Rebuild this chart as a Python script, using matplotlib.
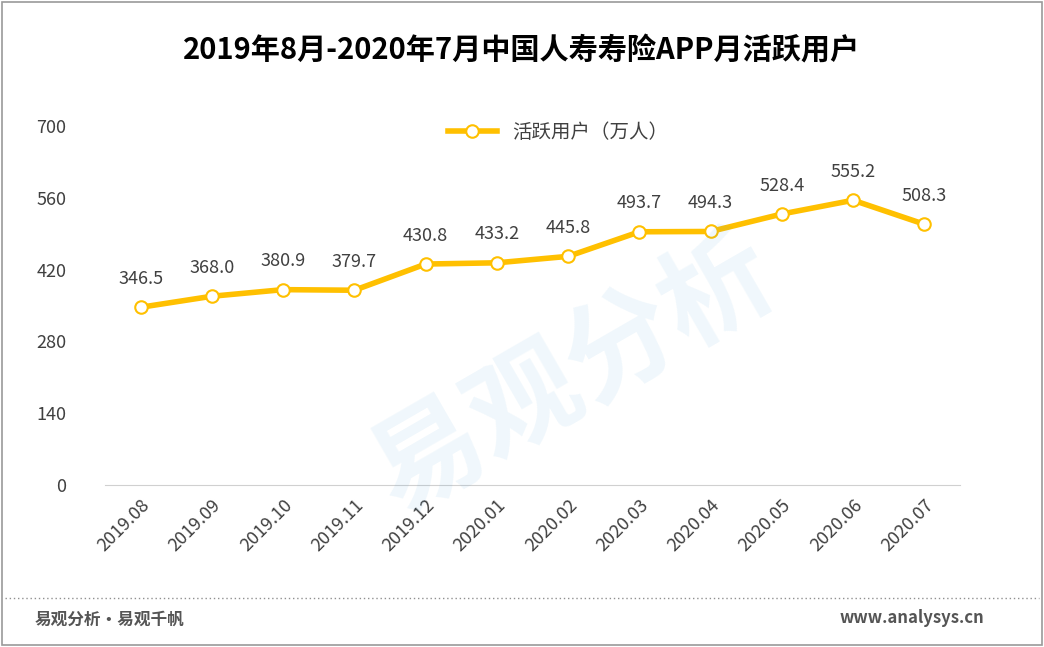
import matplotlib.pyplot as plt
from matplotlib.patches import Rectangle
from matplotlib.lines import Line2D

plt.rcParams['font.family'] = ['Noto Sans CJK SC', 'DejaVu Sans']

months = ['2019.08', '2019.09', '2019.10', '2019.11', '2019.12', '2020.01',
          '2020.02', '2020.03', '2020.04', '2020.05', '2020.06', '2020.07']
users = [346.5, 368.0, 380.9, 379.7, 430.8, 433.2, 445.8, 493.7, 494.3, 528.4, 555.2, 508.3]
yticks = [0, 140, 280, 420, 560, 700]

fig = plt.figure(figsize=(10.44, 6.47), dpi=100)
fig.patches.append(Rectangle((0.002, 0.003), 0.996, 0.994, transform=fig.transFigure,
                             fill=False, edgecolor='#9a9a9a', lw=1.2))

ax = fig.add_axes([0.1006, 0.2504, 0.819, 0.5549])
x = list(range(len(months)))
ax.plot(x, users, color='#FFC000', lw=4, marker='o', ms=9,
        markerfacecolor='white', markeredgecolor='#FFC000', markeredgewidth=1.5,
        label='活跃用户（万人）', zorder=3)
for xi, v in zip(x, users):
    ax.annotate(f'{v:.1f}', (xi, v), xytext=(0, 14), textcoords='offset points',
                ha='center', va='bottom', fontsize=13, color='#404040')

ax.set_xlim(-0.5, 11.5)
ax.set_ylim(0, 700)
ax.set_yticks(yticks)
ax.set_xticks(x)
ax.set_xticklabels(months, rotation=45, ha='right', rotation_mode='anchor')
ax.tick_params(axis='both', length=0, labelsize=13, labelcolor='#404040')
ax.tick_params(axis='y', pad=28)
ax.tick_params(axis='x', pad=8)
for s in ['top', 'right', 'left']:
    ax.spines[s].set_visible(False)
ax.spines['bottom'].set_color('#d0d0d0')

ax.legend(loc='upper center', bbox_to_anchor=(0.53, 1.06), frameon=False,
          fontsize=14, labelcolor='#404040', handlelength=2.5)

# watermark
fig.text(0.55, 0.42, '易观分析', fontsize=80, color='#3a9ad9', alpha=0.08,
         rotation=30, ha='center', va='center', fontweight='bold')

fig.text(0.5, 0.922, '2019年8月-2020年7月中国人寿寿险APP月活跃用户',
         ha='center', va='center', fontsize=21, fontweight='bold', color='black')

fig.add_artist(Line2D([0.005, 0.995], [1 - 598 / 647] * 2, transform=fig.transFigure,
                      color='#909090', lw=1, linestyle=(0, (1, 2))))
fig.text(0.033, 1 - 620 / 647, '易观分析·易观千帆', fontsize=12, fontweight='bold',
         color='#555555', va='center')
fig.text(0.943, 1 - 618 / 647, 'www.analysys.cn', fontsize=12, fontweight='bold',
         color='#555555', va='center', ha='right')

fig.savefig('out.png', dpi=100)
